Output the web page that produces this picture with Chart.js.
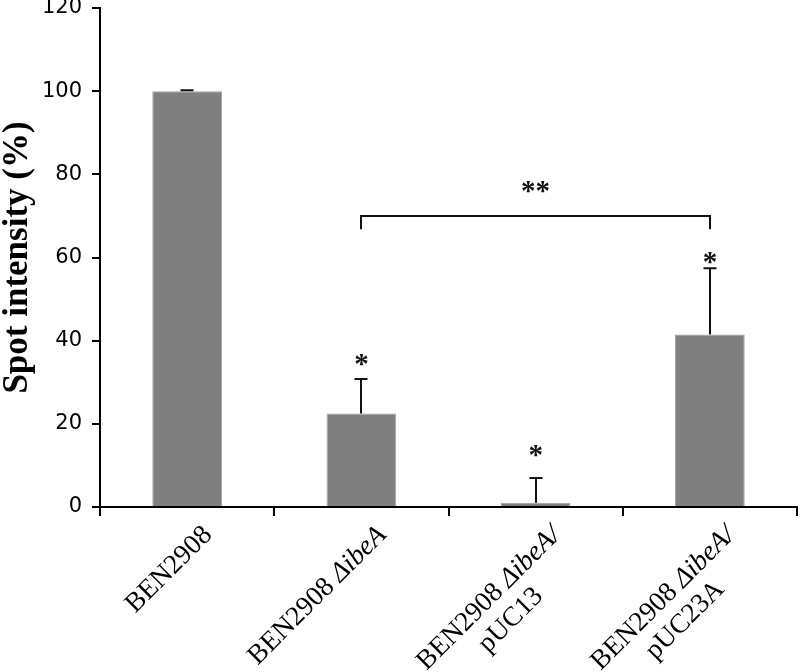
<!DOCTYPE html>
<html><head><meta charset="utf-8">
<script src="https://cdn.jsdelivr.net/npm/chart.js@4"></script>
<style>html,body{margin:0;padding:0;background:#fff}#wrap{width:800px;height:672px}</style>
</head><body><div id="wrap"><canvas id="c" width="800" height="672"></canvas></div>
<script>
// ---- data ----
const categories = ["BEN2908", "BEN2908 ΔibeA", "BEN2908 ΔibeA/ pUC13", "BEN2908 ΔibeA/ pUC23A"];
// label lines; text between underscores is italic
const labelLines = [["BEN2908"], ["BEN2908 _ΔibeA_"], ["BEN2908 _ΔibeA/_", "pUC13"], ["BEN2908 _ΔibeA/_", "pUC23A"]];
const intensity = [100, 22.5, 1.0, 41.5];
const errorUp = [0.2, 8.3, 6.0, 15.9];
const starLabels = ["", "*", "*", "*"];
const starY = [null, 35.4, 13.5, 59.9];
const bracketFrom = 1, bracketTo = 3;
const bracketY = 70, bracketLegY = 66.8;
const bracketText = "**", bracketTextY = 77;
const yTicks = [0, 20, 40, 60, 80, 100, 120];
const yTitle = "Spot intensity (%)";

const overlay = {
  id: 'overlay',
  afterDatasetsDraw(chart) {
    const ctx = chart.ctx, ys = chart.scales.y;
    const meta = chart.getDatasetMeta(0);
    ctx.save();
    ctx.strokeStyle = '#111';
    ctx.lineWidth = 2;
    // error bars
    intensity.forEach((v, i) => {
      const x = Math.round(meta.data[i].x);
      const yb = ys.getPixelForValue(v);
      const yt = ys.getPixelForValue(v + errorUp[i]);
      ctx.beginPath();
      ctx.moveTo(x, yb); ctx.lineTo(x, yt);
      ctx.moveTo(x - 6.5, yt); ctx.lineTo(x + 6.5, yt);
      ctx.stroke();
    });
    // stars
    ctx.fillStyle = '#111';
    ctx.textAlign = 'center';
    ctx.textBaseline = 'alphabetic';
    ctx.font = 'bold 29px "Liberation Serif"';
    const drawCentered = (txt, x, y) => {
      const m = ctx.measureText(txt);
      const asc = m.actualBoundingBoxAscent, desc = m.actualBoundingBoxDescent;
      ctx.fillText(txt, x, y + (asc - desc) / 2);
    };
    starLabels.forEach((s, i) => {
      if (!s) return;
      drawCentered(s, meta.data[i].x, ys.getPixelForValue(starY[i]));
    });
    // bracket
    const x1 = Math.round(meta.data[bracketFrom].x), x2 = Math.round(meta.data[bracketTo].x);
    const by = Math.round(ys.getPixelForValue(bracketY)), bl = ys.getPixelForValue(bracketLegY);
    ctx.beginPath();
    ctx.moveTo(x1, bl); ctx.lineTo(x1, by); ctx.lineTo(x2, by); ctx.lineTo(x2, bl);
    ctx.stroke();
    drawCentered(bracketText, (x1 + x2) / 2, ys.getPixelForValue(bracketTextY));
    ctx.restore();
  },
  afterDraw(chart) {
    const ctx = chart.ctx, xs = chart.scales.x;
    const size = 27.5, L = 31;
    const fontFor = it => (it ? 'italic ' : '') + size + 'px "Liberation Serif"';
    labelLines.forEach((lines, i) => {
      const cx = xs.getPixelForValue(i);
      const ax = cx + 26, ay = xs.top + 29;
      const parsed = lines.map(line => line.split('_').map((t, k) => ({ t, it: k % 2 === 1 })).filter(s => s.t.length));
      const widths = parsed.map(segs => segs.reduce((w, s) => { ctx.font = fontFor(s.it); return w + ctx.measureText(s.t).width; }, 0));
      const maxW = Math.max(...widths);
      ctx.save();
      ctx.translate(ax, ay);
      ctx.rotate(-Math.PI / 4);
      ctx.fillStyle = '#000';
      ctx.textAlign = 'left';
      ctx.textBaseline = 'alphabetic';
      parsed.forEach((segs, j) => {
        let x = -maxW / 2 - widths[j] / 2;
        const y = j * L;
        segs.forEach(s => {
          ctx.font = fontFor(s.it);
          ctx.fillText(s.t, x, y);
          x += ctx.measureText(s.t).width;
        });
      });
      ctx.restore();
    });
  }
};

new Chart(document.getElementById('c').getContext('2d'), {
  type: 'bar',
  data: {
    labels: categories,
    datasets: [{
      data: intensity,
      backgroundColor: '#7f7f7f',
      borderColor: '#a2a2a2',
      borderWidth: 1,
      categoryPercentage: 0.8,
      barPercentage: 0.5
    }]
  },
  options: {
    responsive: false,
    animation: false,
    devicePixelRatio: 1,
    layout: { padding: { top: 8, right: 3, left: 0, bottom: 0 } },
    plugins: { legend: { display: false }, tooltip: { enabled: false } },
    scales: {
      x: {
        grid: { offset: true, drawOnChartArea: false, drawTicks: true, tickLength: 9, color: '#000', lineWidth: 2 },
        border: { color: '#000', width: 2 },
        ticks: { display: false },
        afterFit(s) { s.height = 165; s.paddingLeft = 0; s.paddingRight = 0; }
      },
      y: {
        min: 0, max: 120,
        afterBuildTicks(s) { s.ticks = yTicks.map(v => ({ value: v })); },
        grid: { drawOnChartArea: false, drawTicks: true, tickLength: 8, color: '#000', lineWidth: 2 },
        border: { color: '#000', width: 2 },
        ticks: { font: { family: 'DejaVu Sans', size: 21 }, color: '#000', padding: 10 },
        title: { display: true, text: yTitle, color: '#000', font: { family: 'Liberation Serif', size: 35, weight: 'bold', lineHeight: 1 }, padding: { top: 0, bottom: 0 } },
        afterFit(s) { s.width = 100; s.paddingTop = 0; s.paddingBottom = 0; }
      }
    }
  },
  plugins: [overlay]
});
</script>
</body></html>
